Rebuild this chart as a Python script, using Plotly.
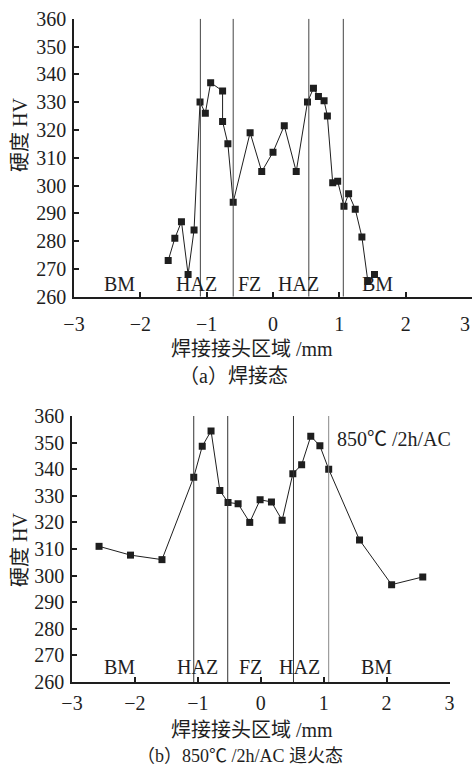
import plotly.graph_objects as go

# ---- data: (a) as-welded ----
a_x = [-1.58, -1.48, -1.38, -1.28, -1.19, -1.10, -1.02, -0.94, -0.76, -0.76, -0.68, -0.60,
       -0.345, -0.17, 0.00, 0.17, 0.35, 0.52, 0.61, 0.685, 0.77, 0.82, 0.90, 0.975,
       1.07, 1.14, 1.24, 1.34, 1.43, 1.53]
a_hv = [273, 281, 287, 268, 284, 330, 326, 337, 334, 323, 315, 294,
        319, 305, 312, 321.5, 305, 330, 335, 332, 330.5, 325, 301, 301.5,
        292.5, 297, 291.5, 281.5, 265.5, 268]
a_bounds = [-1.095, -0.60, 0.54, 1.06]

# ---- data: (b) 850C/2h/AC annealed ----
b_x = [-2.57, -2.07, -1.57, -1.065, -0.93, -0.79, -0.65, -0.52, -0.36, -0.175, -0.01,
       0.17, 0.34, 0.51, 0.65, 0.795, 0.94, 1.08, 1.57, 2.08, 2.575]
b_hv = [311, 307.7, 306, 337, 348.6, 354.4, 332, 327.5, 327, 320, 328.5,
        327.7, 320.8, 338.3, 341.7, 352.4, 348.8, 340, 313.4, 296.6, 299.5]
b_bounds = [-1.065, -0.525, 0.52, 1.08]

zone_labels = ["BM", "HAZ", "FZ", "HAZ", "BM"]
a_label_x = [-2.31, -1.15, -0.35, 0.38, 1.57]
b_label_x = [-2.24, -1.01, -0.16, 0.61, 1.84]

x_ticks = [-3, -2, -1, 0, 1, 2, 3]
x_ticktext = ["−3", "−2", "−1", "0", "1", "2", "3"]
y_ticks = list(range(260, 361, 10))

W, H = 473, 767
SERIF = "Liberation Serif, Noto Sans CJK SC, serif"
FS = 20
INK = "#1e1e1e"

fig = go.Figure()

fig.add_trace(go.Scatter(x=a_x, y=a_hv, mode="lines+markers", xaxis="x", yaxis="y",
                         line=dict(color=INK, width=1),
                         marker=dict(symbol="square", size=7, color=INK),
                         showlegend=False))
fig.add_trace(go.Scatter(x=b_x, y=b_hv, mode="lines+markers", xaxis="x2", yaxis="y2",
                         line=dict(color=INK, width=1),
                         marker=dict(symbol="square", size=7, color=INK),
                         showlegend=False))

def px_x(p):
    return p / W

def px_y(p):
    return 1 - p / H

axis_common = dict(showgrid=False, zeroline=False, showline=True, linecolor=INK, linewidth=1.5,
                   ticks="inside", ticklen=5, tickwidth=1.5, tickcolor=INK,
                   ticklabeloverflow="allow",
                   tickfont=dict(family=SERIF, size=FS, color=INK), automargin=False)

# top panel: last label drawn separately so it stays inside the page
top_ticktext = x_ticktext[:-1] + [""]

fig.update_layout(
    width=W, height=H,
    margin=dict(l=0, r=0, t=0, b=0),
    paper_bgcolor="white", plot_bgcolor="white",
    xaxis=dict(domain=[px_x(74), px_x(472)], range=[-3, 3], tickvals=x_ticks,
               ticktext=top_ticktext, anchor="y", ticklabelstandoff=9, **axis_common),
    yaxis=dict(domain=[px_y(296.7), px_y(18.7)], range=[260, 360], tickvals=y_ticks,
               anchor="x", ticklabelstandoff=2, **axis_common),
    xaxis2=dict(domain=[px_x(72), px_x(449.5)], range=[-3, 3], tickvals=x_ticks,
                ticktext=x_ticktext, anchor="y2", ticklabelstandoff=2, **axis_common),
    yaxis2=dict(domain=[px_y(682), px_y(416)], range=[260, 360], tickvals=y_ticks,
                anchor="x2", ticklabelstandoff=2, **axis_common),
)

shapes = []
for bx in a_bounds:
    shapes.append(dict(type="line", xref="x", yref="y", x0=bx, x1=bx, y0=260, y1=360,
                       line=dict(color="#444444", width=1)))
for i, bx in enumerate(b_bounds):
    shapes.append(dict(type="line", xref="x2", yref="y2", x0=bx, x1=bx, y0=260, y1=360,
                       line=dict(color="#888888" if i == 3 else "#333333", width=1)))
fig.update_layout(shapes=shapes)

ann = []
for t, x in zip(zone_labels, a_label_x):
    ann.append(dict(text=t, x=x, y=264.5, xref="x", yref="y", showarrow=False,
                    font=dict(family=SERIF, size=FS, color=INK)))
for t, x in zip(zone_labels, b_label_x):
    ann.append(dict(text=t, x=x, y=265.5, xref="x2", yref="y2", showarrow=False,
                    font=dict(family=SERIF, size=FS, color=INK)))
ann.append(dict(text="850℃ /2h/AC", x=1.18, y=351.2, xref="x2", yref="y2", showarrow=False,
                xanchor="left", font=dict(family=SERIF, size=FS, color=INK)))

def paper_text(text, xp, yp, angle=0, size=FS, xanchor="center"):
    return dict(text=text, x=px_x(xp), y=px_y(yp), xref="paper", yref="paper",
                showarrow=False, textangle=angle, xanchor=xanchor, yanchor="middle",
                font=dict(family=SERIF, size=size, color=INK))

ann.append(paper_text(x_ticktext[-1], 472, 324, xanchor="right"))
ann.append(paper_text("硬度 HV", 20, 135, -90))
ann.append(paper_text("硬度 HV", 20, 550, -90))
ann.append(paper_text("焊接接头区域 /mm", 252, 349))
ann.append(paper_text("（a）焊接态", 233, 376))
ann.append(paper_text("焊接接头区域 /mm", 252, 730))
ann.append(paper_text("（b）850℃ /2h/AC 退火态", 240, 756, size=18))
fig.update_layout(annotations=ann)

fig.write_html("out.html")
